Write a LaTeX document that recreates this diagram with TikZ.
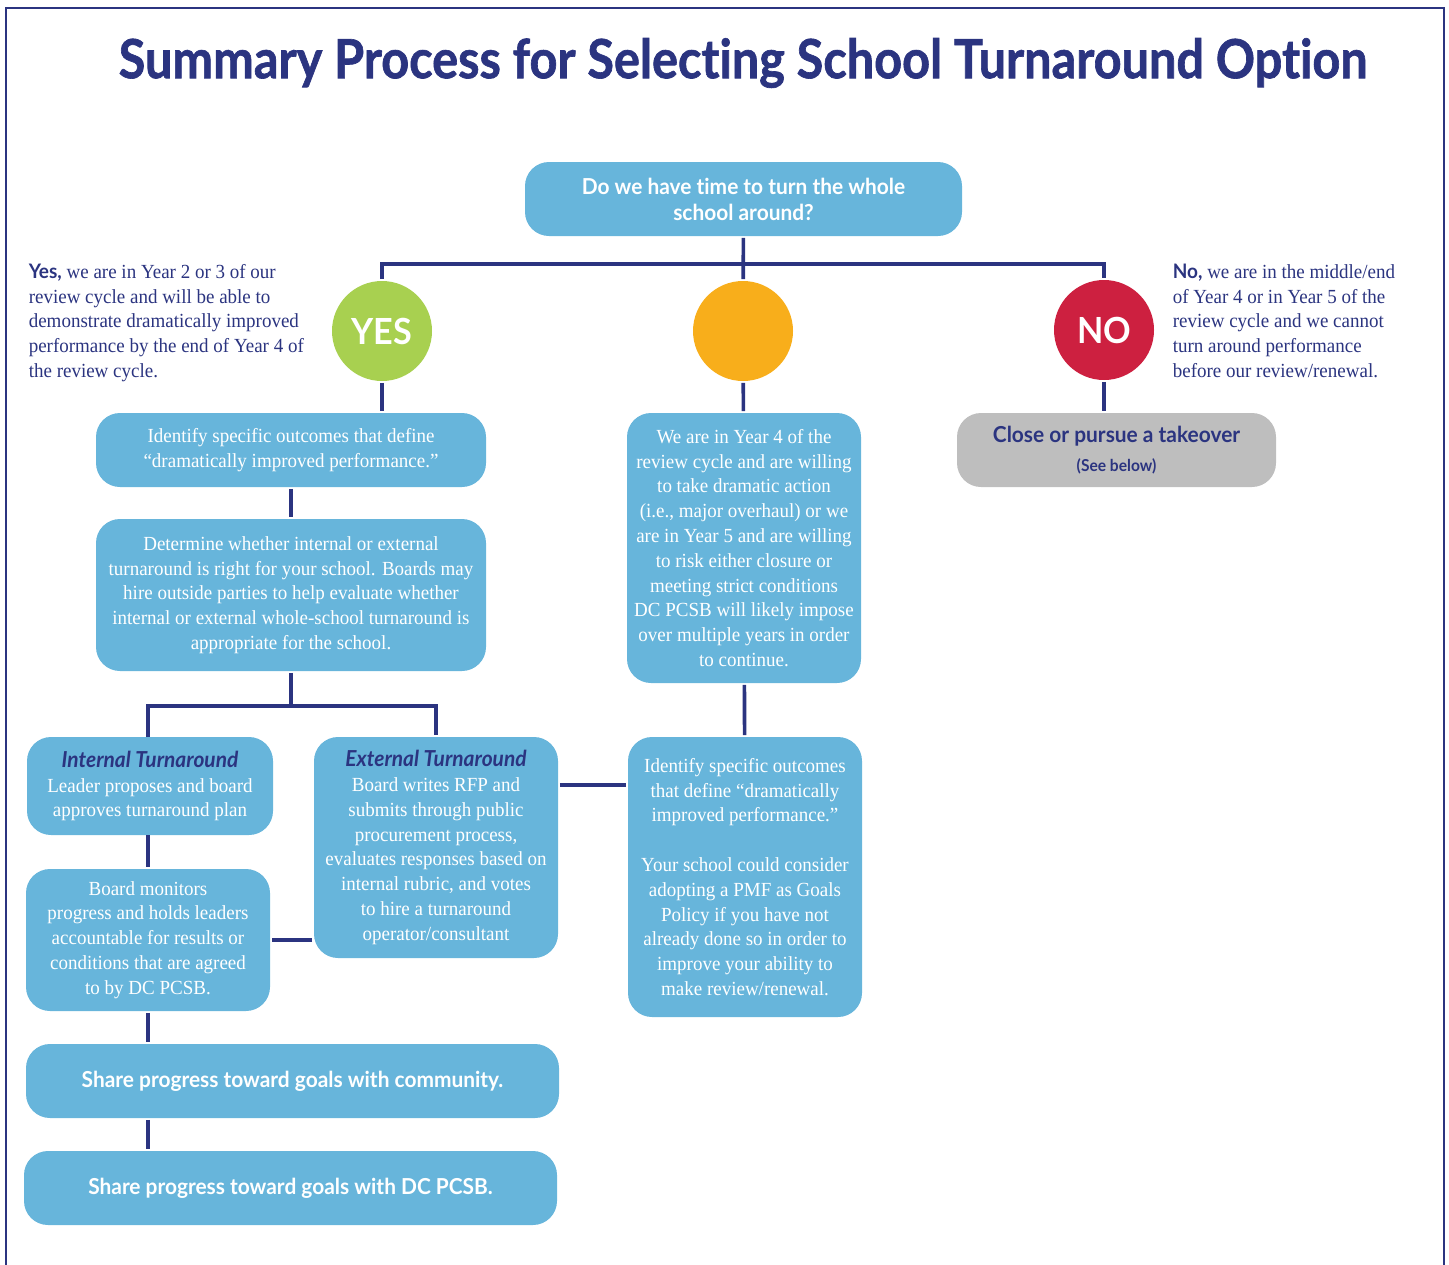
\documentclass[tikz,border=0pt]{standalone}
\usepackage{fontspec}
\setmainfont[FakeStretch=0.95]{Liberation Serif}
\setsansfont[FakeStretch=0.95, Ligatures=NoCommon]{Lato}
\newfontfamily\titlefont[FakeStretch=0.9, Ligatures=NoCommon, BoldFeatures={FakeBold=1.2}]{Lato}
\definecolor{navy}{RGB}{43,52,128}
\definecolor{boxblue}{RGB}{103,181,219}
\definecolor{yesgreen}{RGB}{168,208,80}
\definecolor{maybeorange}{RGB}{248,174,27}
\definecolor{nored}{RGB}{205,32,64}
\definecolor{closegrey}{RGB}{190,190,190}
\tikzset{
  pbox/.style={fill=boxblue, rounded corners=12pt, inner sep=0pt, align=center, text=white,
    font=\fontsize{10}{12.4}\selectfont},
  pball/.style={circle, minimum size=50pt, inner sep=0pt, text=white,
    font=\sffamily\bfseries\fontsize{18}{18}\selectfont},
  sidetext/.style={anchor=north west, align=left, inner sep=0pt, text=navy,
    font=\fontsize{10}{12.4}\selectfont},
  boxhead/.style={font=\sffamily\bfseries\fontsize{11}{13}\selectfont}
}
\begin{document}
\begin{tikzpicture}[x=0.5pt, y=-0.5pt, line width=1.8pt]
  \useasboundingbox (0,0) rectangle (1449,1264);
  \draw[navy, line width=1.4pt] (6,1270) -- (6,8) -- (1444,8) -- (1444,1270);

  \node[text=navy, font=\titlefont\bfseries\fontsize{27}{27}\selectfont] (TT) at (743,63)
    {Summary Process for Selecting School Turnaround Option};

  \node[pbox, boxhead, minimum width=218.5pt, minimum height=37pt] (QA) at (743.5,199)
    {Do we have time to turn the whole\\school around?};

  \node[pball, fill=yesgreen] (CY) at (382,331) {YES};
  \node[pball, fill=maybeorange] (CM) at (743,331) {};
  \node[pball, fill=nored] (CN) at (1104,330) {NO};

  \node[sidetext] (TY) at (27,262)
    {{\sffamily\bfseries Yes,} we are in Year 2 or 3 of our\\review cycle and will be able to\\demonstrate dramatically improved\\performance by the end of Year 4 of\\the review cycle.};
  \node[sidetext] (TN) at (1171,262)
    {{\sffamily\bfseries No,} we are in the middle/end\\of Year 4 or in Year 5 of the\\review cycle and we cannot\\turn around performance\\before our review/renewal.};

  \node[pbox, minimum width=195pt, minimum height=37pt] (YA) at (291,450)
    {Identify specific outcomes that define\\“dramatically improved performance.”};
  \node[pbox, minimum width=195pt, minimum height=76pt] (YB) at (291,595)
    {Determine whether internal or external\\turnaround is right for your school. Boards may\\hire outside parties to help evaluate whether\\internal or external whole-school turnaround is\\appropriate for the school.};

  \node[pbox, minimum width=123pt, minimum height=49pt] (IT) at (150,786)
    {{\sffamily\bfseries\itshape\fontsize{11}{13}\selectfont\color{navy}Internal Turnaround}\\Leader proposes and board\\approves turnaround plan};
  \node[pbox, minimum width=122pt, minimum height=110.5pt] (ET) at (436,847.5)
    {{\sffamily\bfseries\itshape\fontsize{11}{13}\selectfont\color{navy}External Turnaround}\\Board writes RFP and\\submits through public\\procurement process,\\evaluates responses based on\\internal rubric, and votes\\to hire a turnaround\\operator/consultant};
  \node[pbox, minimum width=122pt, minimum height=71pt] (BM) at (148,940)
    {Board monitors\\progress and holds leaders\\accountable for results or\\conditions that are agreed\\to by DC PCSB.};
  \node[pbox, boxhead, minimum width=266.5pt, minimum height=37pt] (SC) at (292.5,1081)
    {Share progress toward goals with community.};
  \node[pbox, boxhead, minimum width=266.5pt, minimum height=37pt] (SD) at (290.5,1188)
    {Share progress toward goals with DC PCSB.};

  \node[pbox, minimum width=117pt, minimum height=135pt] (MA) at (744,548)
    {We are in Year 4 of the\\review cycle and are willing\\to take dramatic action\\(i.e., major overhaul) or we\\are in Year 5 and are willing\\to risk either closure or\\meeting strict conditions\\DC PCSB will likely impose\\over multiple years in order\\to continue.};
  \node[pbox, minimum width=117pt, minimum height=140pt] (MB) at (745,877)
    {Identify specific outcomes\\that define “dramatically\\improved performance.”\\[12.4pt]Your school could consider\\adopting a PMF as Goals\\Policy if you have not\\already done so in order to\\improve your ability to\\make review/renewal.};

  \node[pbox, fill=closegrey, text=navy, minimum width=159.5pt, minimum height=37pt] (GR) at (1116.5,450)
    {{\sffamily\bfseries\fontsize{11}{13}\selectfont Close or pursue a takeover}\\[2pt]{\sffamily\bfseries\fontsize{8.2}{9}\selectfont (See below)}};

  \draw[navy] (QA) -- (CM);
  \draw[navy] (CY.north) |- (743,264) -| (CN.north);
  \draw[navy] (CY) -- (CY |- YA.north);
  \draw[navy] (CM) -- (MA);
  \draw[navy] (CN) -- (CN |- GR.north);
  \draw[navy] (YA) -- (YB);
  \draw[navy] (YB.south) -- ++(0,33) coordinate (SP);
  \draw[navy] (148,737) |- (SP) -| (ET.north);
  \draw[navy] (148,835) -- (BM.north);
  \draw[navy] (ET.west |- BM) -- (BM.east);
  \draw[navy] (ET.east |- 0,785) -- (MB.west |- 0,785);
  \draw[navy] (MA) -- (MB);
  \draw[navy] (BM.south) -- (BM.south |- SC.north);
  \draw[navy] (BM.south |- SC.south) -- (BM.south |- SD.north);
\end{tikzpicture}
\end{document}
